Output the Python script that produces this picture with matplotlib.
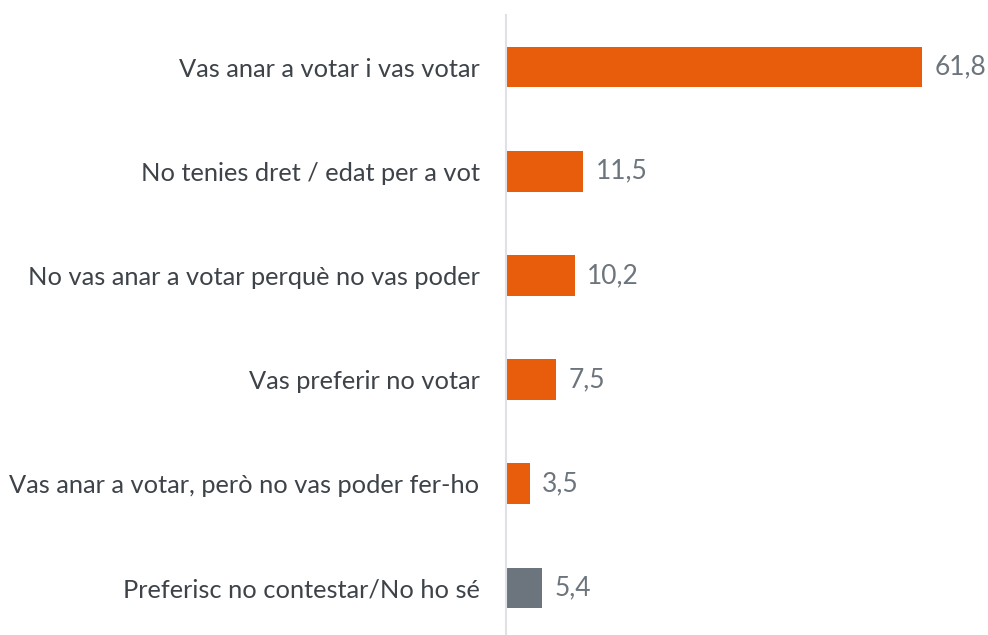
import matplotlib
matplotlib.use("Agg")
import matplotlib.pyplot as plt

categories = [
    "Vas anar a votar i vas votar",
    "No tenies dret / edat per a vot",
    "No vas anar a votar perquè no vas poder",
    "Vas preferir no votar",
    "Vas anar a votar, però no vas poder fer-ho",
    "Preferisc no contestar/No ho sé",
]
values = [61.8, 11.5, 10.2, 7.5, 3.5, 5.4]
value_labels = ["61,8", "11,5", "10,2", "7,5", "3,5", "5,4"]
colors = ["#E85D0C"] * 5 + ["#6C757D"]

plt.rcParams['font.family'] = ['Lato', 'DejaVu Sans']

fig = plt.figure(figsize=(9.88, 6.35), dpi=100)
ax = fig.add_axes([506 / 988, -5 / 635, 1 - 506 / 988, 625 / 635])

ypos = list(range(len(categories)))
ax.barh(ypos, values, height=0.39, color=colors)
ax.set_ylim(len(categories) - 0.5, -0.5)
ax.set_xlim(0, (988 - 506) / 6.73)

for y, v, lab in zip(ypos, values, value_labels):
    ax.annotate(lab, (v, y), xytext=(9, 0), textcoords="offset points",
                va="center", ha="left", fontsize=19, color="#6C757D")

ax.set_yticks(ypos)
ax.set_yticklabels(categories, fontsize=18.3, color="#3D4349")
ax.tick_params(axis="y", length=0, pad=19)
ax.set_xticks([])
for s in ["top", "right", "bottom"]:
    ax.spines[s].set_visible(False)
ax.spines["left"].set_color("#DEE2E6")
ax.spines["left"].set_linewidth(1.5)
ax.patch.set_alpha(0)

fig.savefig("out.png", dpi=100)
